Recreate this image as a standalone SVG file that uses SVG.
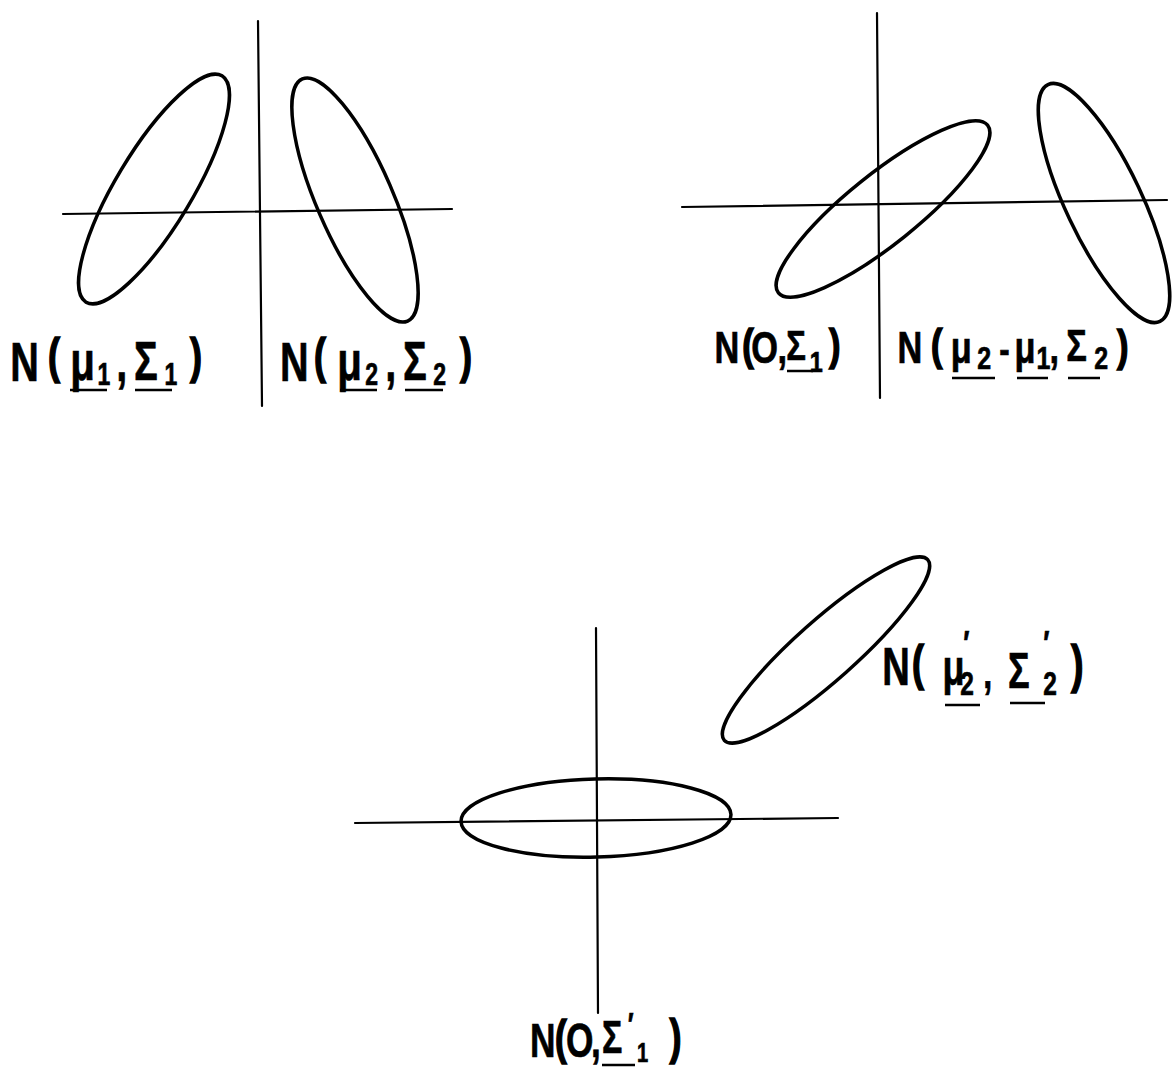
<svg xmlns="http://www.w3.org/2000/svg" width="1175" height="1068" viewBox="0 0 1175 1068">
<style>
.ax{stroke:#000;stroke-width:2.2;fill:none;stroke-linecap:round}
.el{stroke:#000;stroke-width:3.5;fill:none}
.lbl{font-family:"Liberation Sans",Arial,sans-serif;font-weight:bold;fill:#000;stroke:#000;stroke-width:0.7}
.par{stroke-width:1.6}
.ul{stroke:#000;stroke-width:2.5}
</style>
<rect width="1175" height="1068" fill="#fff"/>
<g id="panel1">
  <g id="axes1">
    <line class="ax" x1="258" y1="21" x2="262" y2="406"/>
    <line class="ax" x1="63" y1="214" x2="452" y2="209"/>
  </g>
  <ellipse id="ell-mu1" class="el" cx="154" cy="189" rx="132" ry="38" transform="rotate(-59 154 189)"/>
  <ellipse id="ell-mu2" class="el" cx="355" cy="200" rx="132" ry="38" transform="rotate(66.5 355 200)"/>
  <g id="label-N1">
    <text class="lbl" transform="scale(0.72,1)" font-size="55"><tspan x="14.1" y="381">N</tspan><tspan class="par" x="66.7" y="373" font-size="50">(</tspan><tspan x="97.5" y="380" font-size="56">μ</tspan><tspan x="135.4" y="385" font-size="32">1</tspan><tspan x="161.4" y="381">,</tspan><tspan x="186.1" y="380">Σ</tspan><tspan x="228.4" y="385" font-size="32">1</tspan><tspan class="par" x="263.8" y="373" font-size="50">)</tspan></text>
    <line class="ul" x1="70" y1="390" x2="107" y2="390"/>
    <line class="ul" x1="135" y1="390" x2="172" y2="390"/>
  </g>
  <g id="label-N2">
    <text class="lbl" transform="scale(0.72,1)" font-size="55"><tspan x="389" y="381">N</tspan><tspan class="par" x="436.2" y="373" font-size="50">(</tspan><tspan x="468.3" y="380" font-size="56">μ</tspan><tspan x="507.3" y="385" font-size="32">2</tspan><tspan x="535" y="381">,</tspan><tspan x="559.7" y="380">Σ</tspan><tspan x="601.8" y="385" font-size="32">2</tspan><tspan class="par" x="638.8" y="373" font-size="50">)</tspan></text>
    <line class="ul" x1="340" y1="390" x2="377" y2="390"/>
    <line class="ul" x1="405" y1="390" x2="443" y2="390"/>
  </g>
</g>
<g id="panel2">
  <g id="axes2">
    <line class="ax" x1="877" y1="13" x2="880" y2="398"/>
    <line class="ax" x1="682" y1="207" x2="1167" y2="200"/>
  </g>
  <ellipse id="ell-0" class="el" cx="883" cy="209" rx="134" ry="35" transform="rotate(-38.7 883 209)"/>
  <ellipse id="ell-diff" class="el" cx="1104" cy="203" rx="131" ry="38" transform="rotate(64.7 1104 203)"/>
  <g id="label-N0">
    <text class="lbl" transform="scale(0.78,1)" font-size="44"><tspan x="916" y="363">N</tspan><tspan class="par" x="951.5" y="360">(</tspan><tspan x="963.2" y="363">O</tspan><tspan x="996.9" y="363">,</tspan><tspan x="1008" y="360" font-size="42">Σ</tspan><tspan x="1038" y="372" font-size="30">1</tspan><tspan class="par" x="1062.8" y="360">)</tspan></text>
    <line class="ul" x1="787" y1="371" x2="813" y2="371"/>
  </g>
  <g id="label-Ndiff">
    <text class="lbl" transform="scale(0.78,1)" font-size="44"><tspan x="1150.6" y="363">N</tspan><tspan class="par" x="1193.7" y="360">(</tspan><tspan x="1218.8" y="363">μ</tspan><tspan x="1252.8" y="369" font-size="32">2</tspan><tspan x="1281" y="363" font-size="40">-</tspan><tspan x="1300.8" y="363">μ</tspan><tspan x="1329" y="369" font-size="32">1</tspan><tspan x="1345.6" y="363">,</tspan><tspan x="1367" y="361">Σ</tspan><tspan x="1402.8" y="369" font-size="32">2</tspan><tspan class="par" x="1432" y="361">)</tspan></text>
    <line class="ul" x1="952" y1="378" x2="995" y2="378"/>
    <line class="ul" x1="1017" y1="378" x2="1048" y2="378"/>
    <line class="ul" x1="1068" y1="378" x2="1100" y2="378"/>
  </g>
</g>
<g id="panel3">
  <g id="axes3">
    <line class="ax" x1="596" y1="628" x2="598" y2="1013"/>
    <line class="ax" x1="355" y1="823" x2="838" y2="818"/>
  </g>
  <ellipse id="ell-0p" class="el" cx="596" cy="818" rx="135" ry="39" transform="rotate(-1.5 596 818)"/>
  <ellipse id="ell-mu2p" class="el" cx="826" cy="650" rx="136" ry="30" transform="rotate(-41.6 826 650)"/>
  <g id="label-Nmu2p">
    <text class="lbl" transform="scale(0.72,1)" font-size="53"><tspan x="1225.3" y="685">N</tspan><tspan class="par" x="1266.7" y="680" font-size="50">(</tspan><tspan x="1308.9" y="685" font-size="50">μ</tspan><tspan x="1338" y="655" font-size="36">′</tspan><tspan x="1333.7" y="695" font-size="34">2</tspan><tspan x="1365.5" y="688" font-size="45">,</tspan><tspan x="1400" y="688" font-size="50">Σ</tspan><tspan x="1449" y="655" font-size="36">′</tspan><tspan x="1449" y="695" font-size="34">2</tspan><tspan class="par" x="1487.4" y="682" font-size="52">)</tspan></text>
    <line class="ul" x1="945" y1="705" x2="980" y2="705"/>
    <line class="ul" x1="1010" y1="703" x2="1045" y2="703"/>
  </g>
  <g id="label-N0p">
    <text class="lbl" transform="scale(0.72,1)" font-size="49"><tspan x="736.1" y="1057">N</tspan><tspan class="par" x="770.8" y="1054">(</tspan><tspan x="786.1" y="1057">O</tspan><tspan x="820.8" y="1057">,</tspan><tspan x="836.1" y="1053" font-size="47">Σ</tspan><tspan x="872" y="1036" font-size="34">′</tspan><tspan x="884.7" y="1062" font-size="28">1</tspan><tspan class="par" x="930" y="1054" font-size="50">)</tspan></text>
    <line class="ul" x1="602" y1="1065" x2="635" y2="1065"/>
  </g>
</g>
</svg>
